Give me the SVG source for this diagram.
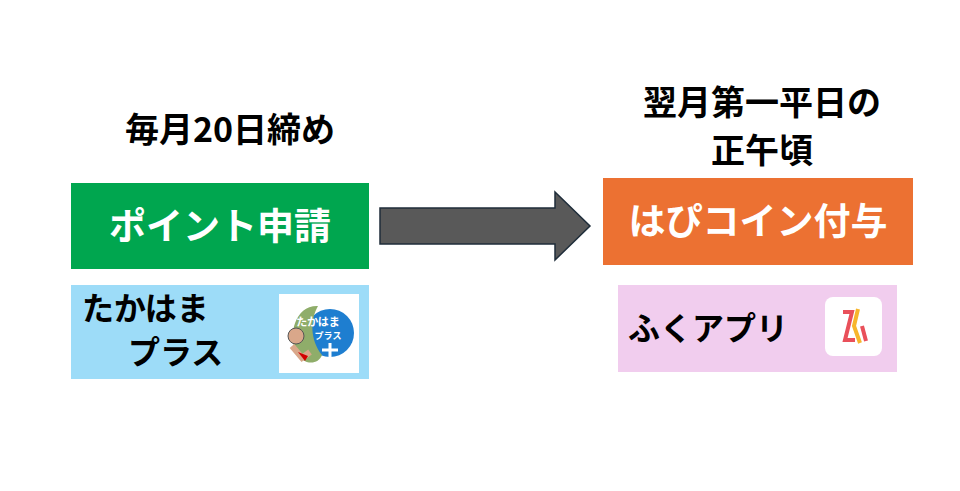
<svg xmlns="http://www.w3.org/2000/svg" width="960" height="491" viewBox="0 0 960 491">
<style>
.t{font-family:"Noto Sans CJK JP","Liberation Sans",sans-serif;font-weight:bold;}
.h{font-size:34px;fill:#000;}
.w{font-size:37px;fill:#fff;}
.b{font-size:32px;fill:#000;}
</style>
<rect width="960" height="491" fill="#fff"/>
<g id="label1"><text class="t h" x="230" y="142" text-anchor="middle">毎月20日締め</text></g>
<g id="label2"><text class="t h" x="762" y="115" text-anchor="middle">翌月第一平日の</text><text class="t h" x="762" y="163" text-anchor="middle">正午頃</text></g>
<g id="apply"><rect x="71" y="183" width="298" height="86" fill="#00a64f"/><text class="t w" x="220" y="240" text-anchor="middle">ポイント申請</text></g>
<g id="grant"><rect x="603" y="178" width="310" height="87" fill="#ec7132"/><text class="t w" x="758" y="235" text-anchor="middle">はぴコイン付与</text></g>
<g id="takahama"><rect x="71" y="285" width="298" height="94" fill="#9ddcf8"/>
<text class="t b" x="82" y="320">たかはま</text><text class="t b" x="128" y="364">プラス</text>
<rect x="279" y="294" width="80" height="79" fill="#fff"/>
<circle cx="330" cy="333" r="24" fill="#1e7ed0"/>
<path d="M318 306 C295 305 288 335 296 352 C302 365 318 366 322 355 C310 340 310 320 318 306Z" fill="#8fad6a"/>
<text class="t" x="318" y="326" font-size="11" fill="#fff" text-anchor="middle">たかはま</text>
<text class="t" x="328" y="339" font-size="9" fill="#fff" text-anchor="middle">プラス</text>
<path d="M322 350h16M330 343v16" stroke="#fff" stroke-width="3"/>
<circle cx="296" cy="336" r="8" fill="#d9a78a" stroke="#555" stroke-width="1"/>
<path d="M292 346l10 12l8-6" stroke="#d9a78a" stroke-width="6" fill="none"/>
<path d="M298 352l10 4l-3 5z" fill="#d10000"/>
</g>
<g id="fuku"><rect x="618" y="285" width="279" height="87" fill="#f1cdee"/>
<text class="t b" x="628" y="340">ふくアプリ</text>
<rect x="825" y="297" width="57" height="59" rx="8" fill="#fff"/>
<path d="M843 312h9l-7 28h10" stroke="#e9505a" stroke-width="4" fill="none"/>
<path d="M862 326l4 15" stroke="#e9505a" stroke-width="4" fill="none"/>
<path d="M858 309l-4 17l6 17" stroke="#f7b52c" stroke-width="4" fill="none"/>
</g>
<g id="connectors"><path d="M380 208h175v-16l35 34l-35 34v-16h-175z" fill="#595959" stroke="#1f2d3a" stroke-width="1.5"/></g>
</svg>
